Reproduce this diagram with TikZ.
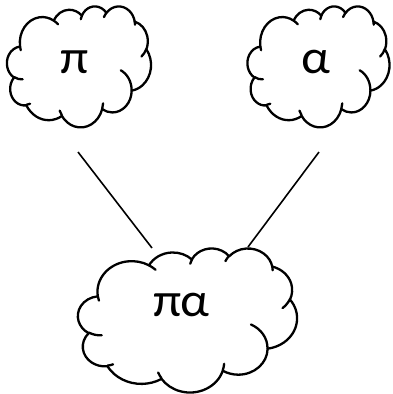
\documentclass[tikz,border=0pt]{standalone}
\usepackage{fontspec}
\newfontfamily\grec[FakeStretch=1.06]{Carlito}
\usepackage{tikz}
\tikzset{
    nuage/.style = {draw, line width=2.3pt, line join=round, line cap=round},
    lien/.style = {draw, line width=1.6pt},
    lettre/.style = {inner sep=0pt, anchor=base, font=\grec\fontsize{48}{56}\selectfont}
}

% contour du nuage sur une grille 432 x 432 (rayons, angle de depart, balayage)
\def\contour{}
\foreach \ew/\eh/\ea/\es in {67.53/91.90/-190.4875/123.7805, 53.33/72.67/-144.1024/89.9452,
        43.65/59.45/-145.8079/99.7230, 48.57/65.95/-130.9861/117.2417,
        53.33/72.73/-78.7089/109.0269, 67.75/92.20/-46.2673/130.2690,
        57.85/78.67/0.6250/114.0333, 67.52/92.15/22.4516/115.1726,
        77.20/105.43/66.2426/75.7110, 43.60/59.18/-274.9421/146.7356,
        43.45/59.45/-246.8285/152.5189} {
    \pgfmathsetmacro\eb{\ea+\es}
    \pgfmathsetmacro\ta{\ea+Mod(atan2(\ew*sin(\ea),\eh*cos(\ea))-\ea+180,360)-180}
    \pgfmathsetmacro\tb{\eb+Mod(atan2(\ew*sin(\eb),\eh*cos(\eb))-\eb+180,360)-180}
    \xdef\contour{\contour arc[x radius=\ew, y radius=\eh, start angle=\ta, end angle=\tb]}
}
% petits plis a l'interieur
\def\plis{}
\foreach \px/\py/\ew/\eh/\ea/\es in {46.93/261.77/43.45/59.45/86.7420/26.4295,
        69.28/348.99/43.60/59.18/73.6105/11.4475, 164.78/390.90/67.52/92.15/137.6242/14.0811,
        288.27/347.51/67.52/92.15/6.4533/15.9984, 341.29/229.54/57.85/78.67/-70.2924/70.9174,
        417.98/153.54/53.33/72.73/30.3180/27.7515, 383.24/54.26/48.57/65.95/-13.7443/14.8589,
        290.78/39.52/48.57/65.95/-149.1815/18.1954, 221.41/47.20/43.65/59.45/-163.4943/17.6864,
        140.00/51.92/67.53/91.90/-66.7070/12.3194, 41.27/157.89/67.53/91.90/157.6544/11.8582} {
    \pgfmathsetmacro\eb{\ea+\es}
    \pgfmathsetmacro\ta{\ea+Mod(atan2(\ew*sin(\ea),\eh*cos(\ea))-\ea+180,360)-180}
    \pgfmathsetmacro\tb{\eb+Mod(atan2(\ew*sin(\eb),\eh*cos(\eb))-\eb+180,360)-180}
    \xdef\plis{\plis (\px,\py) arc[x radius=\ew, y radius=\eh, start angle=\ta, end angle=\tb]}
}

\newcommand\dessinnuage[4]{% x, y, largeur, hauteur
    \pgfmathsetmacro\lx{#3/432}
    \pgfmathsetmacro\ly{#4/432}
    \begin{scope}[shift={(#1,#2)}, x=\lx pt, y=-\ly pt]
        \draw[nuage] (39,143.7) \contour -- cycle;
        \draw[nuage] \plis;
    \end{scope}}

\begin{document}
\begin{tikzpicture}[x=1pt, y=-1pt]
    \useasboundingbox (0,0) rectangle (392,394);
    \dessinnuage{7}{6}{144}{121}
    \dessinnuage{247.5}{6}{142}{121}
    \dessinnuage{78}{248}{219}{144}
    \node[lettre] (pi) at (75,73) {π};
    \node[lettre] (alpha) at (316,73) {α};
    \node[lettre] (pialpha) at (181.5,316) {πα};
    \coordinate (pi-pied) at (78,152);
    \coordinate (alpha-pied) at (319,152);
    \coordinate (pialpha-g) at (152,248);
    \coordinate (pialpha-d) at (248,247);
    \draw[lien] (pi-pied) -- (pialpha-g);
    \draw[lien] (alpha-pied) -- (pialpha-d);
\end{tikzpicture}
\end{document}
